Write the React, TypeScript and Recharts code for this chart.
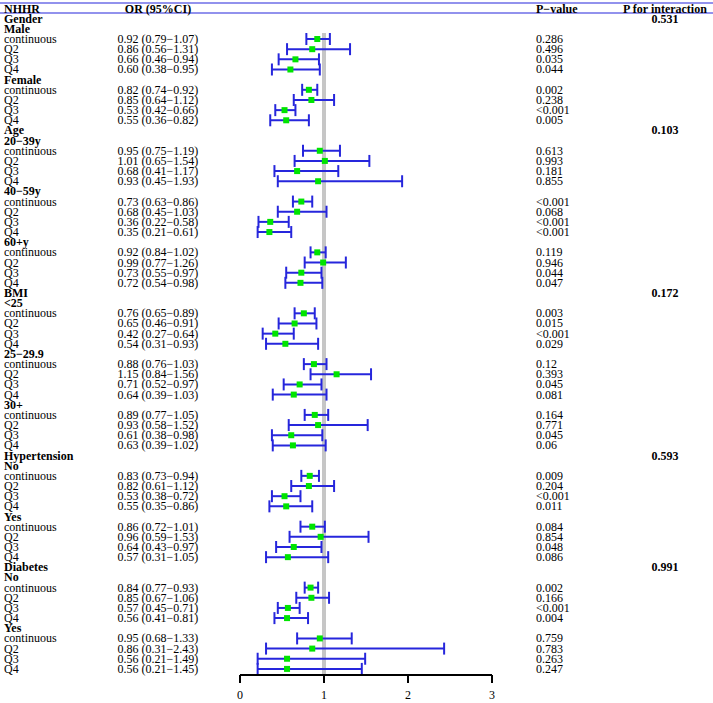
import {
  ComposedChart,
  Scatter,
  ErrorBar,
  XAxis,
  YAxis,
  ReferenceLine,
} from "recharts";

const FONT = "'Liberation Serif', 'Times New Roman', serif";
const BLUE = "#2626dc";
const GREEN = "#00e400";

// one entry per row of the table, row 0 is the header
const labels = [
  "Gender", "Male", "continuous", "Q2", "Q3", "Q4", "Female", "continuous", "Q2", "Q3", "Q4",
  "Age", "20−39y", "continuous", "Q2", "Q3", "Q4", "40−59y", "continuous", "Q2", "Q3", "Q4",
  "60+y", "continuous", "Q2", "Q3", "Q4",
  "BMI", "<25", "continuous", "Q2", "Q3", "Q4", "25−29.9", "continuous", "Q2", "Q3", "Q4",
  "30+", "continuous", "Q2", "Q3", "Q4",
  "Hypertension", "No", "continuous", "Q2", "Q3", "Q4", "Yes", "continuous", "Q2", "Q3", "Q4",
  "Diabetes", "No", "continuous", "Q2", "Q3", "Q4", "Yes", "continuous", "Q2", "Q3", "Q4",
];

const orVals = [
  null, null, 0.92, 0.86, 0.66, 0.6, null, 0.82, 0.85, 0.53, 0.55,
  null, null, 0.95, 1.01, 0.68, 0.93, null, 0.73, 0.68, 0.36, 0.35,
  null, 0.92, 0.99, 0.73, 0.72,
  null, null, 0.76, 0.65, 0.42, 0.54, null, 0.88, 1.15, 0.71, 0.64,
  null, 0.89, 0.93, 0.61, 0.63,
  null, null, 0.83, 0.82, 0.53, 0.55, null, 0.86, 0.96, 0.64, 0.57,
  null, null, 0.84, 0.85, 0.57, 0.56, null, 0.95, 0.86, 0.56, 0.56,
];

const loVals = [
  null, null, 0.79, 0.56, 0.46, 0.38, null, 0.74, 0.64, 0.42, 0.36,
  null, null, 0.75, 0.65, 0.41, 0.45, null, 0.63, 0.45, 0.22, 0.21,
  null, 0.84, 0.77, 0.55, 0.54,
  null, null, 0.65, 0.46, 0.27, 0.31, null, 0.76, 0.84, 0.52, 0.39,
  null, 0.77, 0.58, 0.38, 0.39,
  null, null, 0.73, 0.61, 0.38, 0.35, null, 0.72, 0.59, 0.43, 0.31,
  null, null, 0.77, 0.67, 0.45, 0.41, null, 0.68, 0.31, 0.21, 0.21,
];

const hiVals = [
  null, null, 1.07, 1.31, 0.94, 0.95, null, 0.92, 1.12, 0.66, 0.82,
  null, null, 1.19, 1.54, 1.17, 1.93, null, 0.86, 1.03, 0.58, 0.61,
  null, 1.02, 1.26, 0.97, 0.98,
  null, null, 0.89, 0.91, 0.64, 0.93, null, 1.03, 1.56, 0.97, 1.03,
  null, 1.05, 1.52, 0.98, 1.02,
  null, null, 0.94, 1.12, 0.72, 0.86, null, 1.01, 1.53, 0.97, 1.05,
  null, null, 0.93, 1.06, 0.71, 0.81, null, 1.33, 2.43, 1.49, 1.45,
];

const pValues = [
  null, null, "0.286", "0.496", "0.035", "0.044", null, "0.002", "0.238", "<0.001", "0.005",
  null, null, "0.613", "0.993", "0.181", "0.855", null, "<0.001", "0.068", "<0.001", "<0.001",
  null, "0.119", "0.946", "0.044", "0.047",
  null, null, "0.003", "0.015", "<0.001", "0.029", null, "0.12", "0.393", "0.045", "0.081",
  null, "0.164", "0.771", "0.045", "0.06",
  null, null, "0.009", "0.204", "<0.001", "0.011", null, "0.084", "0.854", "0.048", "0.086",
  null, null, "0.002", "0.166", "<0.001", "0.004", null, "0.759", "0.783", "0.263", "0.247",
];

const pInteraction: Record<string, string> = {
  Gender: "0.531",
  Age: "0.103",
  BMI: "0.172",
  Hypertension: "0.593",
  Diabetes: "0.991",
};

const xTicks = [0, 1, 2, 3];
const rowTicks = [0, ...labels.map((_, i) => i + 1)];

const points = labels
  .map((_, i) => ({
    row: i + 1,
    or: orVals[i],
    err:
      orVals[i] == null
        ? null
        : [(orVals[i] as number) - (loVals[i] as number), (hiVals[i] as number) - (orVals[i] as number)],
  }))
  .filter((d) => d.or != null);

function fmt(v: number | null) {
  return v == null ? "" : v.toFixed(2);
}

function RowTick(props: any) {
  const { y, payload } = props;
  const r = payload.value as number;
  const ty = y + 4;
  if (r === 0) {
    return (
      <g fontFamily={FONT} fontSize={12} fontWeight="bold" fill="#000">
        <line x1={0} x2={713} y1={3} y2={3} stroke={BLUE} strokeWidth={1.2} />
        <line x1={0} x2={713} y1={13} y2={13} stroke={BLUE} strokeWidth={1.2} />
        <text x={4} y={ty}>NHHR</text>
        <text x={158} y={ty} textAnchor="middle">OR (95%CI)</text>
        <text x={536} y={ty}>P−value</text>
        <text x={665} y={ty} textAnchor="middle">P for interaction</text>
      </g>
    );
  }
  const i = r - 1;
  const isHead = orVals[i] == null;
  return (
    <g fontFamily={FONT} fontSize={12} fill="#000">
      <text x={4} y={ty} fontWeight={isHead ? "bold" : "normal"}>
        {labels[i]}
      </text>
      {!isHead && (
        <text x={158} y={ty} textAnchor="middle">
          {`${fmt(orVals[i])} (${fmt(loVals[i])}−${fmt(hiVals[i])})`}
        </text>
      )}
      {!isHead && <text x={536} y={ty}>{pValues[i]}</text>}
      {pInteraction[labels[i]] && (
        <text x={665} y={ty} textAnchor="middle" fontWeight="bold">
          {pInteraction[labels[i]]}
        </text>
      )}
    </g>
  );
}

function Square(props: any) {
  const { cx, cy } = props;
  return <rect x={cx - 3} y={cy - 3} width={6} height={6} fill={GREEN} />;
}

export default function App() {
  return (
    <div style={{ position: "absolute", left: 0, top: 0, background: "#fff" }}>
      <ComposedChart
        width={713}
        height={703}
        margin={{ top: 0, right: 221, bottom: 0, left: 0 }}
      >
        <XAxis
          type="number"
          dataKey="or"
          domain={[0, 3]}
          ticks={xTicks}
          height={28}
          tickSize={8}
          tickMargin={7}
          axisLine={{ stroke: "#000", strokeWidth: 2 }}
          tickLine={{ stroke: "#000", strokeWidth: 2 }}
          tick={{ fill: "#000", fontSize: 12, fontFamily: FONT }}
        />
        <YAxis
          type="number"
          dataKey="row"
          domain={[-0.84, 65.6]}
          reversed
          ticks={rowTicks}
          interval={0}
          width={240}
          axisLine={false}
          tickLine={false}
          tick={<RowTick />}
        />
        <ReferenceLine
          segment={[
            { x: 1, y: 2.4 },
            { x: 1, y: 65.6 },
          ]}
          stroke="#c6c6c6"
          strokeWidth={4}
        />
        <Scatter data={points} shape={<Square />} isAnimationActive={false}>
          <ErrorBar
            dataKey="err"
            direction="x"
            width={6}
            stroke={BLUE}
            strokeWidth={2}
          />
        </Scatter>
      </ComposedChart>
    </div>
  );
}
